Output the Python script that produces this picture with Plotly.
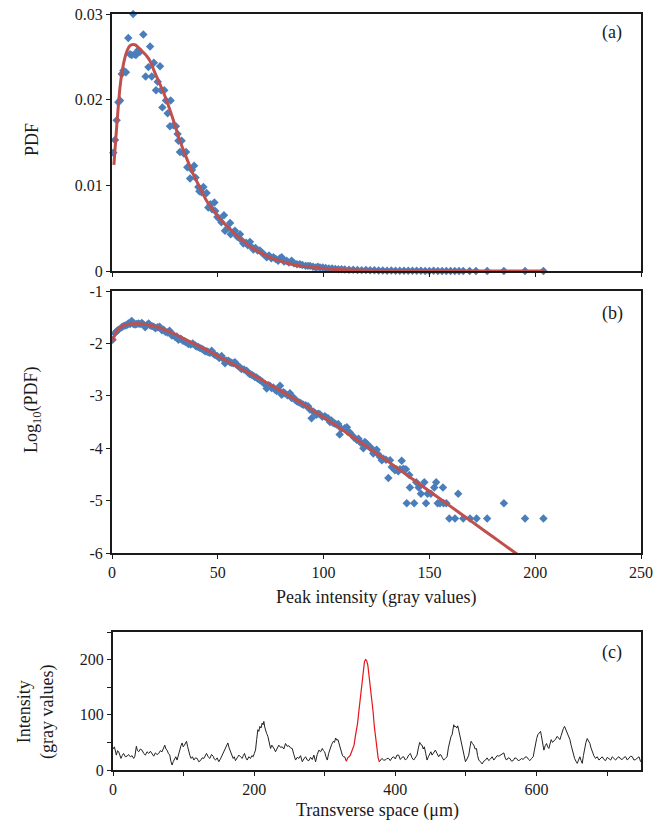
import plotly.graph_objects as go

W, H = 670, 823

# ---------------- Panel (a): PDF (linear) ----------------
a_x = [0.6, 1.4, 2.2, 3.0, 3.8, 4.6, 5.4, 6.6, 7.7, 8.5, 9.3, 10.0, 10.6, 11.3, 12.5, 13.2, 14.8, 15.9,
       17.2, 18.0, 18.8, 19.8, 20.8, 21.6, 22.7, 23.2, 23.8, 24.7, 25.5, 26.3, 27.4, 27.7, 29.0, 30.2,
       31.0, 31.4, 32.1, 32.9, 34.0, 35.0, 35.6, 36.9, 37.8, 38.8, 39.5, 40.8, 41.3, 42.3, 43.2, 44.7,
       45.5, 46.5, 47.3, 48.4, 48.8, 49.8, 50.7, 51.7, 52.9, 53.4, 54.6, 55.8, 56.1, 57.2, 58.1, 59.2,
       60.5, 61.2, 62.1, 63.4, 64.2, 65.2, 66.0, 66.8, 67.8, 68.8, 69.9, 71.0, 72.0, 73.1, 74.2, 75.3,
       76.3, 77.4, 78.5, 79.4, 80.2, 81.3, 82.5, 83.6, 84.9, 86.0, 87.4, 88.8, 90.0, 91.5, 92.6, 93.6,
       95.0, 96.3, 97.3, 98.3, 99.6, 101.0, 102.5, 104.0, 105.5, 107.0, 108.5, 110.0, 112.0, 114.0,
       116.0, 118.0, 120.0, 122.0, 124.0, 126.0, 128.0, 130.0, 132.0, 134.0, 136.0, 138.0, 140.0,
       142.0, 144.0, 146.0, 148.0, 150.0, 152.0, 154.0, 156.0, 158.0, 160.0, 162.0, 164.0, 166.0,
       169.0, 172.0, 177.3, 185.2, 195.2, 203.9]
a_pdf = [0.0138, 0.0153, 0.0176, 0.0197, 0.0199, 0.0230, 0.0234, 0.0232, 0.0272, 0.0253, 0.0252, 0.0300,
         0.0253, 0.0252, 0.0258, 0.0256, 0.0276, 0.0227, 0.0238, 0.0262, 0.0227, 0.0243, 0.0211, 0.0221,
         0.0239, 0.0211, 0.0191, 0.0211, 0.0199, 0.0184, 0.0169, 0.0199, 0.0170, 0.0169, 0.0160, 0.0152,
         0.0139, 0.0152, 0.0137, 0.0139, 0.0121, 0.0108, 0.0118, 0.0123, 0.0109, 0.0098, 0.0093, 0.0092,
         0.0098, 0.0091, 0.0074, 0.0078, 0.0072, 0.0080, 0.0070, 0.0063, 0.0061, 0.0057, 0.0065, 0.0047,
         0.0050, 0.0056, 0.0043, 0.0045, 0.0047, 0.0040, 0.0043, 0.0036, 0.0032, 0.0033, 0.0030, 0.0034,
         0.0028, 0.0025, 0.0027, 0.0024, 0.0024, 0.0021, 0.0019, 0.0016, 0.0018, 0.0015, 0.0016, 0.0014,
         0.0012, 0.0015, 0.0016, 0.0011, 0.0012, 0.0010, 0.0012, 0.0009, 0.0008, 0.0008, 0.0007, 0.0006,
         0.0006, 0.0006, 0.0005, 0.0004, 0.0005, 0.0004, 0.0004, 0.00035, 0.0003, 0.0003, 0.00025,
         0.0002, 0.0002, 0.00018, 0.00015, 0.00014, 0.00012, 0.0001, 0.00011, 0.00008, 0.00009, 0.00007,
         0.00006, 0.00004, 0.00005, 0.00004, 0.00004, 0.00003, 0.00003, 0.00002, 0.00002, 0.00002,
         0.00001, 0.00001, 0.00002, 0.00001, 0.00001, 0.00001, 0.000005, 0.000005, 0.00001, 0.000005,
         0.000005, 0.000005, 0.000005, 0.00001, 0.000005, 0.000005]

a_fit_x = [0.9, 2.2, 3.8, 5.0, 6.1, 7.3, 8.5, 10.0, 11.0, 12.0, 13.2, 16.4, 18.0, 20.0, 22.7, 25.8, 29.0,
           32.1, 35.2, 38.4, 41.6, 44.7, 47.9, 51.0, 57.3, 65.2, 73.1, 81.0, 88.8, 96.7, 104.5, 120.0,
           140.0, 160.0, 180.0, 205.0]
a_fit_pdf = [0.0124, 0.0168, 0.0215, 0.0236, 0.0249, 0.0258, 0.0263, 0.02645, 0.0264, 0.0262, 0.0259,
             0.0251, 0.0245, 0.0233, 0.0218, 0.0199, 0.0176, 0.0152, 0.0132, 0.0113, 0.0097, 0.0082,
             0.0071, 0.0061, 0.0045, 0.0029, 0.00176, 0.00105, 0.00059, 0.0004, 0.0002, 0.00008,
             0.00002, 0.000005, 0.000001, 0.0]

# ---------------- Panel (b): Log10(PDF) ----------------
b_x = [0.3, 1.4, 2.2, 3.0, 4.6, 5.4, 6.2, 7.0, 7.7, 8.5, 9.3, 10.1, 10.9, 11.7, 12.5, 13.3, 14.1, 14.9,
       15.7, 16.5, 17.3, 18.1, 18.9, 19.7, 20.5, 21.5, 22.5, 23.6, 24.4, 25.2, 26.2, 27.2, 28.3, 29.1,
       29.9, 30.6, 31.4, 32.5, 33.5, 34.3, 35.0, 36.1, 37.2, 38.2, 39.3, 40.0, 40.8, 41.6, 42.4, 43.2,
       44.0, 44.8, 45.5, 46.3, 47.1, 47.9, 48.7, 49.7, 50.7, 51.8, 52.6, 53.4, 54.2, 55.0, 55.8, 56.5,
       57.3, 58.1, 58.9, 59.7, 60.5, 61.2, 62.4, 63.6, 64.4, 65.2, 66.0, 66.8, 67.5, 68.3, 69.1, 69.9,
       70.7, 71.5, 72.3, 73.1, 73.9, 74.6, 75.4, 76.2, 77.0, 77.8, 78.6, 79.4, 80.2, 81.0, 81.7, 82.9,
       84.1, 84.9, 85.7, 86.4, 87.2, 88.0, 88.8, 89.6, 90.4, 91.5, 92.7, 93.5, 94.3, 95.1, 95.9, 96.6,
       97.4, 98.2, 99.4, 100.6, 101.4, 102.1, 103.0, 103.7, 104.5, 105.3, 106.1, 106.9, 107.6, 108.4,
       110.0, 111.0, 111.5, 112.4, 113.3, 114.5, 115.6, 116.5, 117.2, 118.0, 118.8, 119.5, 120.3,
       121.1, 121.9, 122.7, 123.5, 124.3, 125.1, 125.9, 126.7, 127.5, 128.3, 129.5, 130.6, 131.4,
       132.2, 133.0, 133.7, 134.5, 135.3, 136.1, 136.9, 137.7, 138.9, 139.3, 140.5, 140.8, 142.8,
       143.8, 144.9, 146.0, 147.6, 148.4, 149.1, 150.7, 152.3, 153.2, 153.9, 155.0, 156.4, 156.7,
       158.0, 159.4, 162.1, 163.6, 166.0, 169.2, 172.3, 177.3, 185.2, 195.2, 203.9]
b_logpdf = [-1.93, -1.80, -1.77, -1.74, -1.69, -1.67, -1.66, -1.65, -1.62, -1.63, -1.57, -1.63, -1.64,
            -1.63, -1.62, -1.63, -1.61, -1.64, -1.69, -1.65, -1.62, -1.66, -1.67, -1.68, -1.71, -1.69,
            -1.68, -1.75, -1.74, -1.78, -1.79, -1.76, -1.85, -1.84, -1.88, -1.87, -1.93, -1.91, -1.95,
            -1.96, -1.98, -2.01, -2.02, -2.00, -2.04, -2.06, -2.07, -2.09, -2.10, -2.12, -2.15, -2.15,
            -2.17, -2.18, -2.14, -2.20, -2.22, -2.24, -2.28, -2.24, -2.30, -2.38, -2.33, -2.33, -2.36,
            -2.37, -2.38, -2.36, -2.41, -2.43, -2.46, -2.49, -2.50, -2.52, -2.56, -2.59, -2.60, -2.62,
            -2.64, -2.65, -2.68, -2.70, -2.72, -2.75, -2.78, -2.86, -2.80, -2.81, -2.85, -2.84, -2.88,
            -2.91, -2.89, -2.81, -2.98, -2.93, -2.95, -2.99, -2.95, -3.04, -3.03, -3.07, -3.10, -3.12,
            -3.13, -3.15, -3.17, -3.18, -3.20, -3.26, -3.43, -3.30, -3.33, -3.36, -3.34, -3.35, -3.40,
            -3.39, -3.42, -3.43, -3.50, -3.47, -3.52, -3.53, -3.55, -3.54, -3.74, -3.63, -3.62, -3.60,
            -3.69, -3.70, -3.75, -3.80, -3.84, -3.82, -3.88, -3.91, -4.00, -3.88, -3.91, -3.96, -3.97,
            -4.02, -4.10, -4.05, -4.03, -4.12, -4.17, -4.23, -4.20, -4.22, -4.57, -4.23, -4.36, -4.38,
            -4.42, -4.40, -4.44, -4.40, -4.24, -4.39, -4.40, -5.05, -4.51, -4.75, -5.05, -4.65, -4.75,
            -4.87, -4.65, -5.05, -4.87, -4.87, -4.75, -4.65, -5.05, -5.05, -4.75, -5.05, -5.05, -5.34,
            -5.34, -4.87, -5.34, -5.34, -5.34, -5.34, -5.05, -5.34, -5.34]

b_fit_x = [0.5, 1, 2, 3, 4, 5, 6, 8, 10, 12, 14, 17, 20, 25, 30, 35, 40, 45, 50, 55, 60, 70, 80, 90,
           100, 110, 120, 130, 140, 150, 160, 170, 180, 190, 200, 205]
b_fit_log = [-1.95, -1.87, -1.78, -1.72, -1.69, -1.665, -1.65, -1.635, -1.625, -1.625, -1.63, -1.645,
             -1.67, -1.74, -1.83, -1.93, -2.03, -2.13, -2.24, -2.35, -2.46, -2.68, -2.91, -3.15, -3.41,
             -3.68, -3.96, -4.24, -4.53, -4.82, -5.11, -5.40, -5.69, -5.98, -6.27, -6.41]

# ---------------- Panel (c): intensity profile ----------------
c_left_x = [0, 2, 4.7, 6.5, 8, 9.5, 11.3, 13, 15, 17.5, 19.9, 22, 24.6, 27, 29.3, 31, 33.1, 34.7, 36.4,
            38.7, 41.1, 43.5, 45.9, 48.2, 50.6, 53, 55.3, 57.7, 60, 62.4, 64.8, 67.1, 69.5, 71.4, 73.3,
            75, 76.6, 78.5, 80.4, 82, 83.7, 85.3, 87, 88.9, 90.8, 92.7, 94.6, 96.3, 97.9, 99.5, 101.2,
            102.6, 104.1, 105.8, 107.4, 109, 110.7, 112.6, 114.5, 116.8, 119.2, 121.5, 123.9, 126.3,
            128.7, 130.5, 132.4, 134.8, 137.2, 139.5, 141.9, 143.5, 145.2, 147.5, 149.9, 152.2, 154.6,
            157, 159.4, 161, 162.7, 164.5, 166.4, 168.3, 170.2, 171.8, 173.5, 175.9, 178.3, 180.6, 183,
            184.6, 186.3, 188.2, 190.1, 192.4, 194.8, 196.7, 198.6, 200.2, 201.9, 203.5, 205.2, 206.6,
            208.1, 209.7, 211.3, 212.5, 213.7, 214.9, 216.1, 217.7, 219.4, 221.3, 223.2, 225, 226.9,
            228.5, 230.2, 232.5, 234.9, 237.3, 239.7, 242, 244.4, 246.7, 249.1, 251.5, 253.9, 256.2,
            258.6, 261, 263.3, 265.7, 268.1, 270.4, 272.8, 275.2, 277.5, 279.9, 282.3, 284.6, 287,
            289.3, 291.7, 294.1, 296.5, 298.1, 299.8, 301.7, 303.6, 305.5, 307.3, 309.7, 312.1, 313.7,
            315.4, 317, 318.7, 320.1, 321.6, 323.2, 324.9, 326.5, 328.2, 330.5]
c_left_I = [38, 42, 27, 35, 33, 28, 21, 26, 30, 24, 25, 28, 24, 26, 21, 25, 43, 35, 33, 38, 36, 30, 27,
            33, 30, 34, 29, 25, 31, 28, 30, 35, 33, 40, 45, 38, 36, 30, 27, 16, 9, 15, 21, 24, 18, 28,
            36, 44, 49, 42, 45, 50, 52, 42, 33, 26, 21, 24, 18, 22, 21, 15, 17, 22, 21, 25, 30, 24, 21,
            28, 25, 20, 18, 22, 15, 20, 27, 33, 39, 45, 49, 40, 33, 27, 21, 24, 17, 22, 27, 24, 21, 26,
            30, 22, 18, 24, 21, 26, 24, 30, 36, 55, 73, 70, 79, 76, 85, 82, 88, 78, 70, 66, 61, 50, 39,
            45, 42, 38, 33, 40, 45, 41, 42, 38, 48, 43, 44, 40, 39, 28, 18, 23, 21, 26, 15, 20, 24, 18,
            17, 23, 19, 27, 15, 28, 36, 33, 39, 35, 33, 24, 18, 30, 39, 46, 52, 50, 58, 54, 55, 48, 42,
            35, 27, 24, 24, 16]
c_peak_x = [330.5, 332.5, 334.4, 336.2, 338, 340, 341.5, 343.3, 344.8, 346.5, 348, 349.7, 351.3, 353,
            354.6, 356.2, 357.8, 359.4, 361, 362.7, 364.5, 366, 367, 368.5, 370.2, 372, 374, 375.6,
            377.3]
c_peak_I = [16, 22, 24, 27, 33, 39, 45, 61, 70, 85, 103, 125, 145, 165, 185, 196, 200, 198, 190, 172,
            152, 135, 127, 105, 79, 58, 36, 22, 15]
c_right_x = [377.3, 378.7, 381, 383.4, 385.8, 388.1, 390.5, 392.8, 395.2, 397.6, 400, 402.3, 404.7, 407,
             409.4, 411.8, 414.2, 416.5, 418.9, 421.3, 423.6, 426, 428.4, 430.7, 432.6, 434.5, 436.2,
             437.8, 439.5, 441.1, 443, 444.9, 446.8, 448.7, 450.3, 452, 454.3, 456.7, 459, 461.4,
             463.1, 464.8, 466.6, 468.5, 470.9, 473.3, 475.1, 477, 478.7, 480.4, 481.5, 482.7, 484.2,
             485.6, 487, 488.4, 489.8, 491.2, 492.9, 494.5, 496.9, 499.3, 501.6, 504, 505.6, 507.3,
             509.2, 511.1, 513, 514.9, 516.5, 518.2, 520.5, 522.9, 525.3, 527.7, 530, 532.4, 534.8,
             537.1, 539.5, 541.8, 544.2, 546.6, 549, 551.3, 553.7, 555.6, 557.5, 559.8, 562.2, 564.6,
             566.9, 569.3, 571.7, 574, 576.4, 578.8, 581.1, 583.5, 585.8, 588.2, 590.6, 593, 595.3,
             597, 598.6, 600.2, 601.9, 603.8, 605.7, 606.9, 608.1, 609.2, 610.4, 612.3, 614.2, 615.8,
             617.5, 619.1, 620.8, 622.7, 624.6, 627, 629.3, 631.2, 633.1, 634.8, 636.4, 638, 639.7,
             641.6, 643.5, 645.4, 647.3, 649, 650.6, 652.2, 653.9, 655.8, 657.7, 659.5, 661.4, 663.1,
             664.8, 666.4, 668.1, 670, 671.8, 673.7, 675.6, 677.2, 678.9, 681.2, 683.6, 686, 688.4,
             690.7, 693.1, 695.5, 697.8, 700.2, 702.6, 705, 707.3, 709.7, 712, 714.4, 716.8, 719.1,
             721.5, 723.9, 726.2, 728.6, 731, 733.3, 735.7, 738, 740.4, 742.8, 745.2, 747.5, 749.9]
c_right_I = [15, 17, 21, 18, 18, 21, 21, 17, 22, 24, 20, 27, 27, 19, 23, 24, 18, 21, 27, 30, 22, 18, 24,
             27, 40, 50, 46, 45, 38, 42, 30, 18, 24, 30, 33, 27, 31, 36, 30, 24, 28, 27, 22, 18, 21, 24,
             40, 54, 60, 64, 75, 82, 78, 79, 76, 80, 72, 64, 52, 42, 28, 15, 20, 27, 40, 52, 48, 45, 38,
             39, 26, 18, 15, 11, 16, 18, 22, 17, 20, 24, 18, 21, 26, 25, 27, 30, 31, 22, 18, 22, 21, 16,
             17, 22, 21, 17, 18, 21, 19, 23, 24, 20, 17, 21, 24, 36, 48, 57, 64, 68, 70, 62, 55, 45, 36,
             44, 48, 42, 39, 47, 55, 50, 52, 56, 61, 58, 55, 62, 70, 75, 79, 73, 67, 60, 55, 45, 36, 28,
             21, 16, 12, 18, 24, 17, 12, 26, 39, 50, 57, 52, 48, 40, 33, 26, 21, 24, 18, 22, 24, 19, 17,
             23, 21, 18, 24, 20, 18, 22, 24, 20, 19, 23, 24, 18, 21, 25, 24, 18, 19, 22, 24, 15, 12]

# tick labels
a_yticks = [0, 0.01, 0.02, 0.03]
a_yticklabels = ["0", "0.01", "0.02", "0.03"]
ab_xticks = [0, 50, 100, 150, 200, 250]
b_yticks = [-6, -5, -4, -3, -2, -1]
b_yticklabels = ["-6", "-5", "-4", "-3", "-2", "-1"]
c_xticks = [0, 100, 200, 300, 400, 500, 600, 700]
c_xticklabels = ["0", "", "200", "", "400", "", "600", ""]
c_yticks = [0, 50, 100, 150, 200, 250]
c_yticklabels = ["0", "", "100", "", "200", ""]

# ---------------- figure ----------------
FONT = "Liberation Serif, Times New Roman, serif"
INK = "#1a1a1a"
BLUE = "#4a7ebb"
RED = "#c0504d"


def px_x(p):
    return p / W


def px_y(p):
    return 1 - p / H


fig = go.Figure()
fig.add_trace(go.Scatter(x=a_x, y=a_pdf, mode="markers", xaxis="x", yaxis="y",
                         marker=dict(symbol="diamond", size=6.5, color=BLUE), cliponaxis=False))
fig.add_trace(go.Scatter(x=a_fit_x, y=a_fit_pdf, mode="lines", xaxis="x", yaxis="y",
                         line=dict(color=RED, width=3, shape="spline", smoothing=0.8)))
fig.add_trace(go.Scatter(x=b_x, y=b_logpdf, mode="markers", xaxis="x2", yaxis="y2",
                         marker=dict(symbol="diamond", size=6.5, color=BLUE)))
fig.add_trace(go.Scatter(x=b_fit_x, y=b_fit_log, mode="lines", xaxis="x2", yaxis="y2",
                         line=dict(color=RED, width=3, shape="spline", smoothing=0.8)))
fig.add_trace(go.Scatter(x=c_left_x, y=c_left_I, mode="lines", xaxis="x3", yaxis="y3",
                         line=dict(color="#222222", width=1)))
fig.add_trace(go.Scatter(x=c_right_x, y=c_right_I, mode="lines", xaxis="x3", yaxis="y3",
                         line=dict(color="#222222", width=1)))
fig.add_trace(go.Scatter(x=c_peak_x, y=c_peak_I, mode="lines", xaxis="x3", yaxis="y3",
                         line=dict(color="#e8141b", width=1.2)))

tickfont = dict(family=FONT, size=16, color=INK)
common = dict(showline=True, mirror=True, linecolor=INK, linewidth=2, ticks="outside", ticklen=4,
              tickwidth=1, tickcolor=INK, showgrid=False, zeroline=False, tickfont=tickfont,
              automargin=False)

xdom = [px_x(112), px_x(641)]
fig.update_layout(
    width=W, height=H, margin=dict(l=0, r=0, t=0, b=0),
    paper_bgcolor="white", plot_bgcolor="white", showlegend=False,
    font=dict(family=FONT, color=INK),
    xaxis=dict(domain=xdom, range=[0, 250], tickvals=ab_xticks, showticklabels=False,
               anchor="y", **common),
    yaxis=dict(domain=[px_y(271), px_y(14)], range=[0, 0.03], tickvals=a_yticks,
               ticktext=a_yticklabels, anchor="x", **common),
    xaxis2=dict(domain=xdom, range=[0, 250], tickvals=ab_xticks, anchor="y2", **common),
    yaxis2=dict(domain=[px_y(553), px_y(291)], range=[-6, -1], tickvals=b_yticks,
                ticktext=b_yticklabels, anchor="x2", **common),
    xaxis3=dict(domain=[px_x(113), px_x(641)], range=[0, 748], tickvals=c_xticks,
                ticktext=c_xticklabels, anchor="y3", **common),
    yaxis3=dict(domain=[px_y(770), px_y(632)], range=[0, 250], tickvals=c_yticks,
                ticktext=c_yticklabels, anchor="x3", **common),
)

tf = dict(family=FONT, size=18, color=INK)
ann = [
    dict(text="PDF", x=px_x(32), y=px_y(140), textangle=-90),
    dict(text="Log<sub>10</sub>(PDF)", x=px_x(32), y=px_y(410), textangle=-90),
    dict(text="Intensity<br>(gray values)", x=px_x(36), y=px_y(712), textangle=-90),
    dict(text="Peak intensity (gray values)", x=px_x(376), y=px_y(597)),
    dict(text="Transverse space (μm)", x=px_x(377), y=px_y(810)),
    dict(text="(a)", x=px_x(612), y=px_y(33)),
    dict(text="(b)", x=px_x(612), y=px_y(313)),
    dict(text="(c)", x=px_x(612), y=px_y(652)),
]
for a in ann:
    fig.add_annotation(xref="paper", yref="paper", showarrow=False, xanchor="center",
                       yanchor="middle", font=tf, **a)

fig.write_html("out.html")
